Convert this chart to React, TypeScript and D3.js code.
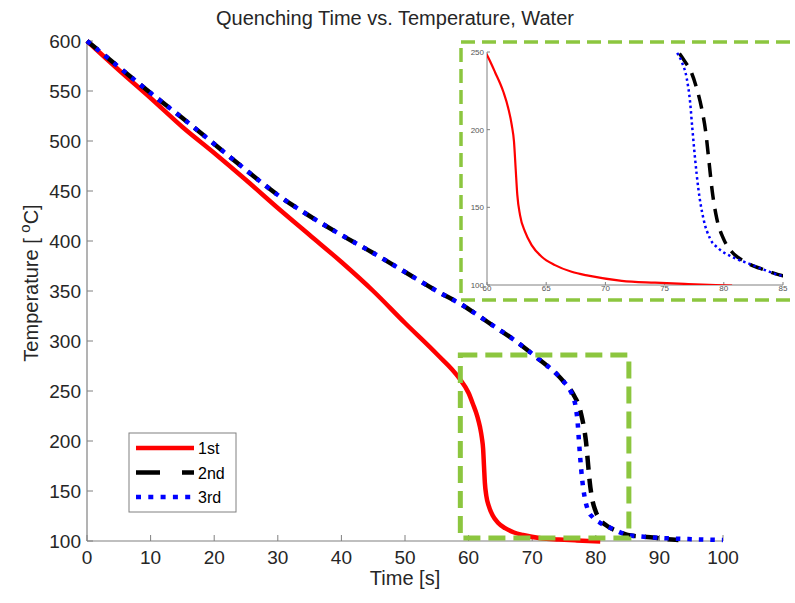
import React from "react";
import * as d3 from "d3";

// 1st run (red)
const time1 = [0, 5, 10, 15, 20, 25, 30, 35, 40, 45, 50, 55, 58.5, 60, 60.68, 61.38, 61.8, 62.09, 62.28, 62.42, 62.56, 62.79, 63.21, 63.77, 64.62, 65.74, 67.15, 68.56, 71.38, 74.19, 77, 80.7];
const temp1 = [600, 571, 543, 514, 488, 461, 433, 406, 379, 350, 318, 287, 263, 248, 237, 224.4, 213.7, 203, 192.3, 175, 158, 145, 134.3, 125.7, 118.2, 112.8, 108.5, 106, 102.7, 101.5, 100.6, 99.6];

// 2nd run (black dashed)
const time2 = [0, 5, 10, 15, 20, 25, 30, 35, 40, 45, 50, 55, 59, 63, 67.5, 71, 74, 75, 76.16, 76.72, 77.29, 77.71, 78.13, 78.47, 78.75, 79.03, 79.4, 79.96, 80.67, 81.79, 83.48, 85, 87, 89, 91, 93];
const temp2 = [600, 574, 548, 523, 497, 471, 446, 425, 406, 388, 369, 350, 336, 319, 299.5, 282, 266, 259, 250, 243.8, 236.3, 226.6, 213.7, 198.7, 179.4, 160, 143, 130, 121.4, 115, 109.6, 106, 104.5, 103.5, 102, 101];

// 3rd run (blue dotted)
const time3 = [0, 5, 10, 15, 20, 25, 30, 35, 40, 45, 50, 55, 59, 63, 67.5, 71, 74, 75, 76.02, 76.44, 76.87, 77.15, 77.34, 77.57, 77.85, 78.27, 78.83, 79.54, 80.67, 82.07, 83.48, 84.89, 87, 89, 92, 95, 100];
const temp3 = [600, 574, 548, 523, 497, 471, 446, 425, 406, 388, 369, 350, 336, 319, 299.5, 282, 266, 259, 250, 243.8, 233, 218, 201, 181.6, 162, 143, 130, 123.6, 118.2, 113.9, 109.6, 106, 104.5, 103.5, 102.5, 101.8, 101];

const xTicks = [0, 10, 20, 30, 40, 50, 60, 70, 80, 90, 100];
const yTicks = [100, 150, 200, 250, 300, 350, 400, 450, 500, 550, 600];
const insetXTicks = [60, 65, 70, 75, 80, 85];
const insetYTicks = [100, 150, 200, 250];

// zoom window marked in the main plot
const zoomX = [58.7, 85.2];
const zoomY = [103, 286];

const labels = ["1st", "2nd", "3rd"];

const FONT = "'Liberation Sans', Arial, sans-serif";
const GREEN = "#8cc63f";

type Pt = [number, number];
const zip = (t: number[], v: number[]): Pt[] => t.map((d, i) => [d, v[i]]);

export default function App() {
  const x = d3.scaleLinear().domain([0, 100]).range([87, 723]);
  const y = d3.scaleLinear().domain([100, 600]).range([541, 41]);
  const ix = d3.scaleLinear().domain([60, 85]).range([487, 783]);
  const iy = d3.scaleLinear().domain([100, 250]).range([285, 52]);

  const line = d3.line<Pt>().x((d) => x(d[0])).y((d) => y(d[1])).curve(d3.curveMonotoneX);
  const iline = d3.line<Pt>().x((d) => ix(d[0])).y((d) => iy(d[1])).curve(d3.curveMonotoneX);

  const s1 = zip(time1, temp1);
  const s2 = zip(time2, temp2);
  const s3 = zip(time3, temp3);

  const axisColor = "#808080";
  const textColor = "#262626";

  return (
    <svg width={795} height={603} style={{ position: "absolute", left: 0, top: 0, background: "#fff" }}>
      <defs>
        <clipPath id="insetClip">
          <rect x={ix(60)} y={iy(250)} width={ix(85) - ix(60)} height={iy(100) - iy(250)} />
        </clipPath>
      </defs>

      {/* title */}
      <text x={395} y={25} textAnchor="middle" fontFamily={FONT} fontSize={20} fill={textColor}>
        Quenching Time vs. Temperature, Water
      </text>

      {/* main axes */}
      <line x1={x(0)} x2={x(0)} y1={y(100)} y2={y(600)} stroke={axisColor} strokeWidth={1.2} />
      <line x1={x(0)} x2={x(100)} y1={y(100)} y2={y(100)} stroke={axisColor} strokeWidth={1.2} />
      {yTicks.map((t) => (
        <g key={"y" + t}>
          <line x1={x(0)} x2={x(0) + 6} y1={y(t)} y2={y(t)} stroke={axisColor} />
          <text x={x(0) - 6} y={y(t) + 7} textAnchor="end" fontFamily={FONT} fontSize={19} fill={textColor}>
            {t}
          </text>
        </g>
      ))}
      {xTicks.map((t) => (
        <g key={"x" + t}>
          <line x1={x(t)} x2={x(t)} y1={y(100)} y2={y(100) - 6} stroke={axisColor} />
          <text x={x(t)} y={y(100) + 23} textAnchor="middle" fontFamily={FONT} fontSize={19} fill={textColor}>
            {t}
          </text>
        </g>
      ))}
      <text x={(x(0) + x(100)) / 2} y={585} textAnchor="middle" fontFamily={FONT} fontSize={20} fill={textColor}>
        Time [s]
      </text>
      <text
        transform={`translate(38,283) rotate(-90)`}
        textAnchor="middle"
        fontFamily={FONT}
        fontSize={20}
        fill={textColor}
      >
        Temperature [ <tspan dy={-8} fontSize={15}>o</tspan>
        <tspan dy={8}>C]</tspan>
      </text>

      {/* main curves */}
      <path d={line(s1) || ""} fill="none" stroke="#ff0000" strokeWidth={4.5} />
      <path d={line(s2) || ""} fill="none" stroke="#000" strokeWidth={4.5} strokeDasharray="14 9" />
      <path d={line(s3) || ""} fill="none" stroke="#0000ff" strokeWidth={4.5} strokeDasharray="4.5 7" />

      {/* zoom window */}
      <rect
        x={x(zoomX[0])}
        y={y(zoomY[1])}
        width={x(zoomX[1]) - x(zoomX[0])}
        height={y(zoomY[0]) - y(zoomY[1])}
        fill="none"
        stroke={GREEN}
        strokeWidth={5}
        strokeDasharray="17 8"
      />

      {/* legend */}
      <rect x={129} y={433} width={107} height={79} fill="#fff" stroke="#808080" strokeWidth={1} />
      {labels.map((lab, i) => {
        const ly = 448 + i * 24.5;
        const styles = [
          { stroke: "#ff0000", dash: undefined },
          { stroke: "#000", dash: "24 22" },
          { stroke: "#0000ff", dash: "5 7.3" },
        ][i];
        return (
          <g key={lab}>
            <line x1={136} x2={194} y1={ly} y2={ly} stroke={styles.stroke} strokeWidth={4.5} strokeDasharray={styles.dash} />
            <text x={198} y={ly + 6} fontFamily={FONT} fontSize={16} fill="#000">
              {lab}
            </text>
          </g>
        );
      })}

      {/* inset */}
      <rect x={461} y={42} width={340} height={258} fill="#fff" stroke="none" />
      <line x1={ix(60)} x2={ix(60)} y1={iy(100)} y2={iy(250)} stroke={axisColor} strokeWidth={1} />
      <line x1={ix(60)} x2={ix(85)} y1={iy(100)} y2={iy(100)} stroke={axisColor} strokeWidth={1} />
      {insetYTicks.map((t) => (
        <g key={"iy" + t}>
          <line x1={ix(60)} x2={ix(60) + 3} y1={iy(t)} y2={iy(t)} stroke={axisColor} />
          <text x={ix(60) - 3} y={iy(t) + 3} textAnchor="end" fontFamily={FONT} fontSize={8} fill="#555">
            {t}
          </text>
        </g>
      ))}
      {insetXTicks.map((t) => (
        <g key={"ix" + t}>
          <line x1={ix(t)} x2={ix(t)} y1={iy(100)} y2={iy(100) - 3} stroke={axisColor} />
          <text x={ix(t)} y={iy(100) + 6} textAnchor="middle" fontFamily={FONT} fontSize={8} fill="#555">
            {t}
          </text>
        </g>
      ))}
      <g clipPath="url(#insetClip)">
        <path d={iline(s1) || ""} fill="none" stroke="#ff0000" strokeWidth={2.2} />
        <path d={iline(s2) || ""} fill="none" stroke="#000" strokeWidth={3.5} strokeDasharray="14 9" />
        <path d={iline(s3) || ""} fill="none" stroke="#0000ff" strokeWidth={2.5} strokeDasharray="2.5 3" />
      </g>
      <rect x={461} y={42} width={340} height={258} fill="none" stroke={GREEN} strokeWidth={3.5} strokeDasharray="14 7" />
    </svg>
  );
}
